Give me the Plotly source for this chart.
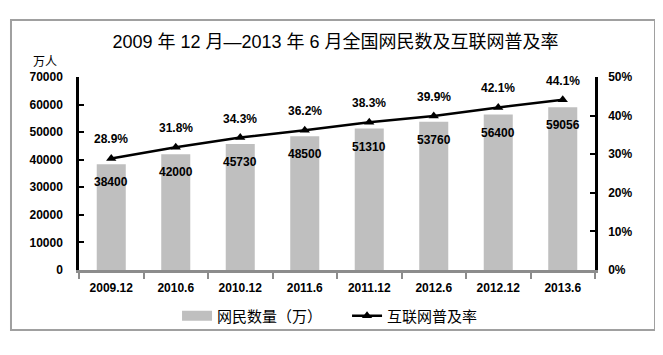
import plotly.graph_objects as go

categories = ["2009.12", "2010.6", "2010.12", "2011.6", "2011.12", "2012.6", "2012.12", "2013.6"]
users = [38400, 42000, 45730, 48500, 51310, 53760, 56400, 59056]
rate = [0.289, 0.318, 0.343, 0.362, 0.383, 0.399, 0.421, 0.441]
left_ticks = [0, 10000, 20000, 30000, 40000, 50000, 60000, 70000]
right_ticks = [0, 0.1, 0.2, 0.3, 0.4, 0.5]

CJK = "Noto Sans CJK SC"
NUM = "Liberation Sans"
BAR_COLOR = "#BFBFBF"

fig = go.Figure()
fig.add_trace(go.Bar(
    x=categories, y=users, name="网民数量（万）",
    marker=dict(color=BAR_COLOR, line=dict(width=0)),
    width=0.45, yaxis="y", showlegend=False,
))
# legend entry for bars drawn as a wide grey swatch
fig.add_trace(go.Scatter(
    x=[None], y=[None], name="网民数量（万）", mode="lines",
    line=dict(color=BAR_COLOR, width=11), showlegend=True,
))
fig.add_trace(go.Scatter(
    x=categories, y=rate, name="互联网普及率", yaxis="y2",
    mode="lines+markers",
    line=dict(color="#000000", width=2.5),
    marker=dict(symbol="triangle-up", size=9, color="#000000"),
))

annotations = []
for i, v in enumerate(users):
    annotations.append(dict(x=i, y=v, xref="x", yref="y", text=f"<b>{v}</b>",
                            showarrow=False, yshift=-18,
                            font=dict(family=NUM, size=12, color="#000000")))
for i, r in enumerate(rate):
    annotations.append(dict(x=i, y=r, xref="x", yref="y2", text=f"<b>{r*100:.1f}%</b>",
                            showarrow=False, yshift=19,
                            font=dict(family=NUM, size=12, color="#000000")))
annotations.append(dict(x=-0.066, y=1.088, xref="paper", yref="paper", text="万人",
                        xanchor="center", yanchor="middle",
                        showarrow=False, font=dict(family=CJK, size=12, color="#000000")))

fig.update_layout(
    width=663, height=355,
    margin=dict(l=71, r=76, t=69, b=93),
    paper_bgcolor="#FFFFFF", plot_bgcolor="#FFFFFF",
    title=dict(text="2009 年 12 月—2013 年 6 月全国网民数及互联网普及率",
               x=0.494, xanchor="center", y=0.904, yanchor="middle",
               font=dict(family="Liberation Sans, " + CJK, size=18, color="#000000")),
    showlegend=True,
    legend=dict(orientation="h", x=0.19, xanchor="left", y=-0.238, yanchor="middle",
                font=dict(family=CJK, size=15, color="#000000"),
                entrywidth=125, entrywidthmode="pixels",
                bgcolor="rgba(0,0,0,0)", tracegroupgap=0),
    xaxis=dict(
        type="category", range=[-0.5, len(categories) - 0.5], autorange=False,
        showgrid=False, showline=True, linecolor="#8C8C8C", linewidth=3,
        ticks="outside", tickson="boundaries", ticklen=6, tickcolor="#8C8C8C", tickwidth=2,
        tickfont=dict(family=NUM, size=12, color="#000000"), ticklabelstandoff=5,
        tickvals=categories, ticktext=[f"<b>{c}</b>" for c in categories],
    ),
    yaxis=dict(
        range=[0, 70000], autorange=False, tickvals=left_ticks,
        ticktext=[f"<b>{t}</b>" for t in left_ticks],
        showgrid=False, showline=True, linecolor="#000000", linewidth=2.5,
        ticks="inside", ticklen=5, tickcolor="#000000", tickwidth=2,
        tickfont=dict(family=NUM, size=12, color="#000000"), zeroline=False,
        ticklabelstandoff=11,
    ),
    yaxis2=dict(
        range=[0, 0.5], autorange=False, overlaying="y", side="right",
        tickvals=right_ticks, ticktext=[f"<b>{int(round(t*100))}%</b>" for t in right_ticks],
        showgrid=False, showline=True, linecolor="#000000", linewidth=2.5,
        ticks="inside", ticklen=5, tickcolor="#000000", tickwidth=2,
        tickfont=dict(family=NUM, size=12, color="#000000"), zeroline=False,
        ticklabelstandoff=8,
    ),
    annotations=annotations,
    shapes=[dict(type="rect", xref="paper", yref="paper",
                 x0=-0.1318, x1=1.1163, y0=-0.3109, y1=1.2953,
                 line=dict(color="#A0A0A0", width=2), fillcolor="rgba(0,0,0,0)", layer="below")],
)

fig.write_html("out.html")
